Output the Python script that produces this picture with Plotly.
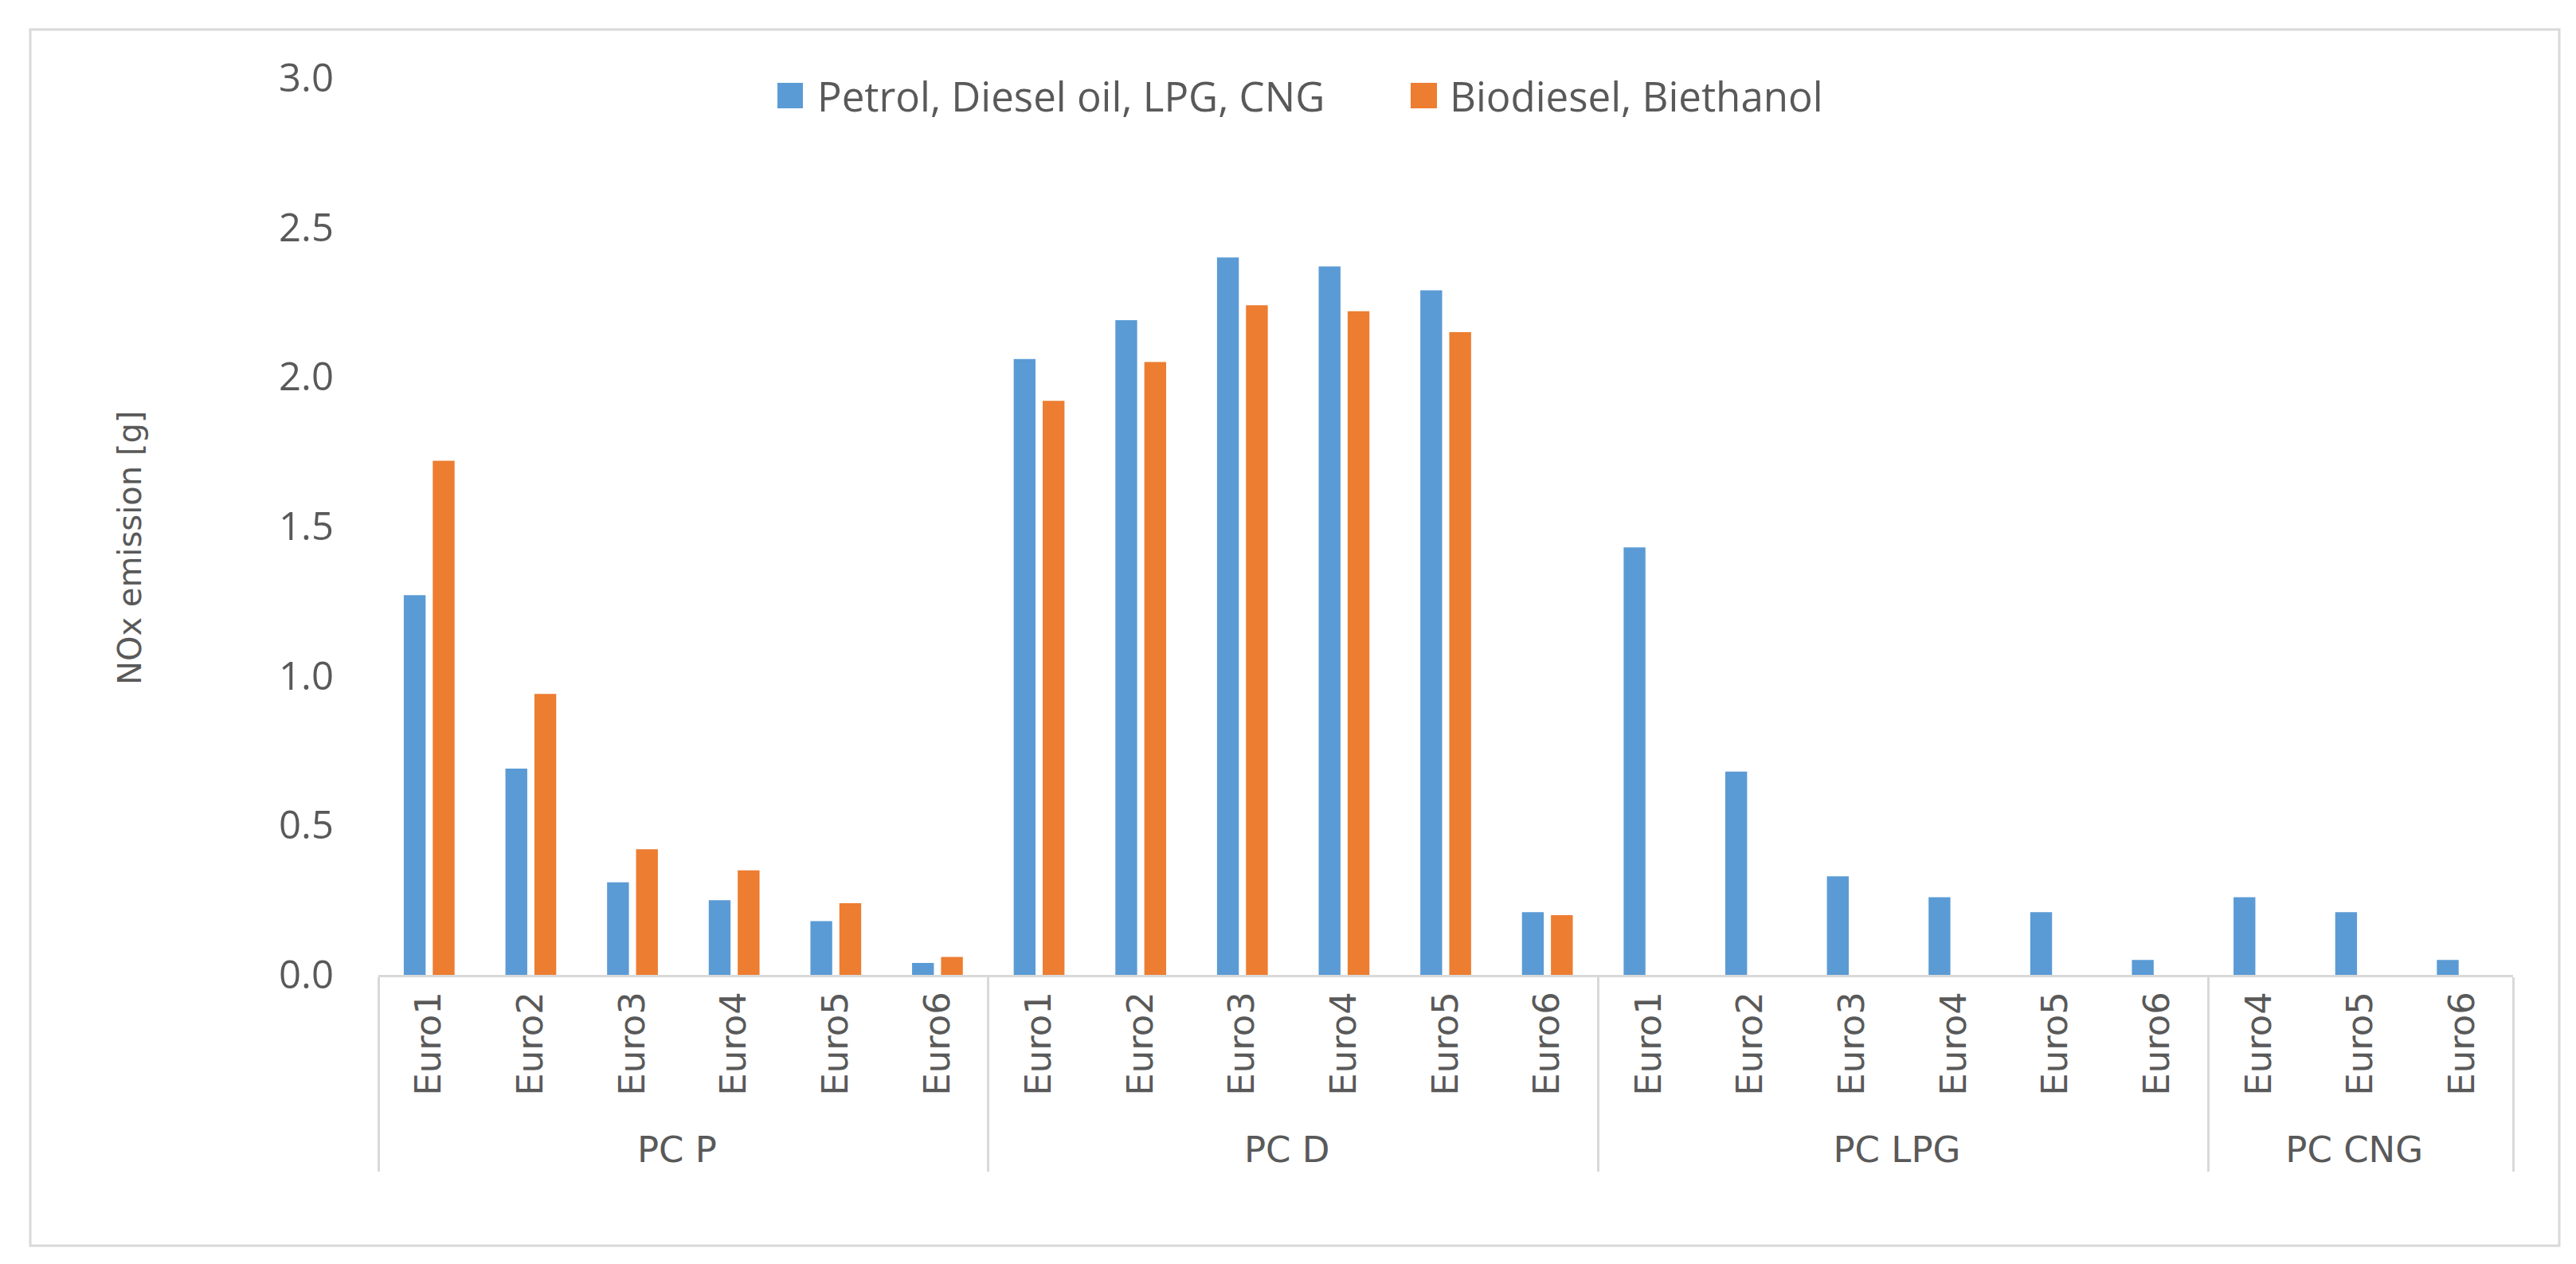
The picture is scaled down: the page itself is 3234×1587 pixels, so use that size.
import plotly.graph_objects as go

# ---------------- data ----------------
groups = ["PC P"] * 6 + ["PC D"] * 6 + ["PC LPG"] * 6 + ["PC CNG"] * 3
stages = (["Euro1", "Euro2", "Euro3", "Euro4", "Euro5", "Euro6"] * 3
          + ["Euro4", "Euro5", "Euro6"])

conventional = [1.27, 0.69, 0.31, 0.25, 0.18, 0.04,
                2.06, 2.19, 2.40, 2.37, 2.29, 0.21,
                1.43, 0.68, 0.33, 0.26, 0.21, 0.05,
                0.26, 0.21, 0.05]
bio = [1.72, 0.94, 0.42, 0.35, 0.24, 0.06,
       1.92, 2.05, 2.24, 2.22, 2.15, 0.20,
       None, None, None, None, None, None,
       None, None, None]

series_names = ["Petrol, Diesel oil, LPG, CNG", "Biodiesel, Biethanol"]
series_colors = ["#5B9BD5", "#ED7D31"]
y_ticks = [0.0, 0.5, 1.0, 1.5, 2.0, 2.5, 3.0]
y_title = "NOx emission [g]"

# ---------------- layout geometry ----------------
W, H = 3234, 1587
ML, MR, MT, MB = 467, 87, 90, 371
PW, PH = W - ML - MR, H - MT - MB


def px_x(px):
    return (px - ML) / PW


def px_y(py):
    return (H - MB - py) / PH


GREY = "#595959"
LINE = "#d9d9d9"

fig = go.Figure()
for name, vals, col in zip(series_names, [conventional, bio], series_colors):
    fig.add_trace(go.Bar(
        x=[groups, stages], y=vals, name=name,
        marker=dict(color=col, line=dict(width=0)),
        showlegend=False,
    ))

shapes = [
    # outer chart border
    dict(type="rect", xref="paper", yref="paper",
         x0=px_x(30), x1=px_x(3205), y0=px_y(1556), y1=px_y(29),
         line=dict(color=LINE, width=3), fillcolor="rgba(0,0,0,0)", layer="below"),
    # legend keys
    dict(type="rect", xref="paper", yref="paper",
         x0=px_x(968), x1=px_x(1000), y0=px_y(128), y1=px_y(96),
         line=dict(width=0), fillcolor=series_colors[0]),
    dict(type="rect", xref="paper", yref="paper",
         x0=px_x(1763), x1=px_x(1796), y0=px_y(128), y1=px_y(96),
         line=dict(width=0), fillcolor=series_colors[1]),
]

annotations = [
    dict(text=series_names[0], xref="paper", yref="paper",
         x=px_x(1016), y=px_y(112), xanchor="left", yanchor="middle",
         showarrow=False, font=dict(family="Open Sans", size=51, color=GREY)),
    dict(text=series_names[1], xref="paper", yref="paper",
         x=px_x(1810), y=px_y(112), xanchor="left", yanchor="middle",
         showarrow=False, font=dict(family="Open Sans", size=51, color=GREY)),
    dict(text=y_title, xref="paper", yref="paper",
         x=px_x(155), y=px_y(680), xanchor="center", yanchor="middle",
         textangle=-90, showarrow=False,
         font=dict(family="DejaVu Sans", size=40, color=GREY)),
]

fig.update_layout(
    width=W, height=H,
    margin=dict(l=ML, r=MR, t=MT, b=MB, autoexpand=False),
    paper_bgcolor="white", plot_bgcolor="white",
    barmode="group", bargap=0.43, bargroupgap=0.247,
    showlegend=False,
    shapes=shapes, annotations=annotations,
    xaxis=dict(
        type="multicategory",
        showline=True, linecolor=LINE, linewidth=3,
        showdividers=True, dividercolor=LINE, dividerwidth=3,
        tickangle=-90,
        tickfont=dict(family="DejaVu Sans", size=45, color=GREY),
        ticks="outside", ticklen=12, tickcolor="rgba(0,0,0,0)",
        showgrid=False, zeroline=False,
    ),
    yaxis=dict(
        range=[0, 3], tickvals=y_ticks, tickformat=".1f",
        showgrid=False, zeroline=False, showline=False, ticks="",
        ticklabelstandoff=55,
        tickfont=dict(family="Open Sans", size=49, color=GREY),
    ),
)

fig.write_html("out.html")
